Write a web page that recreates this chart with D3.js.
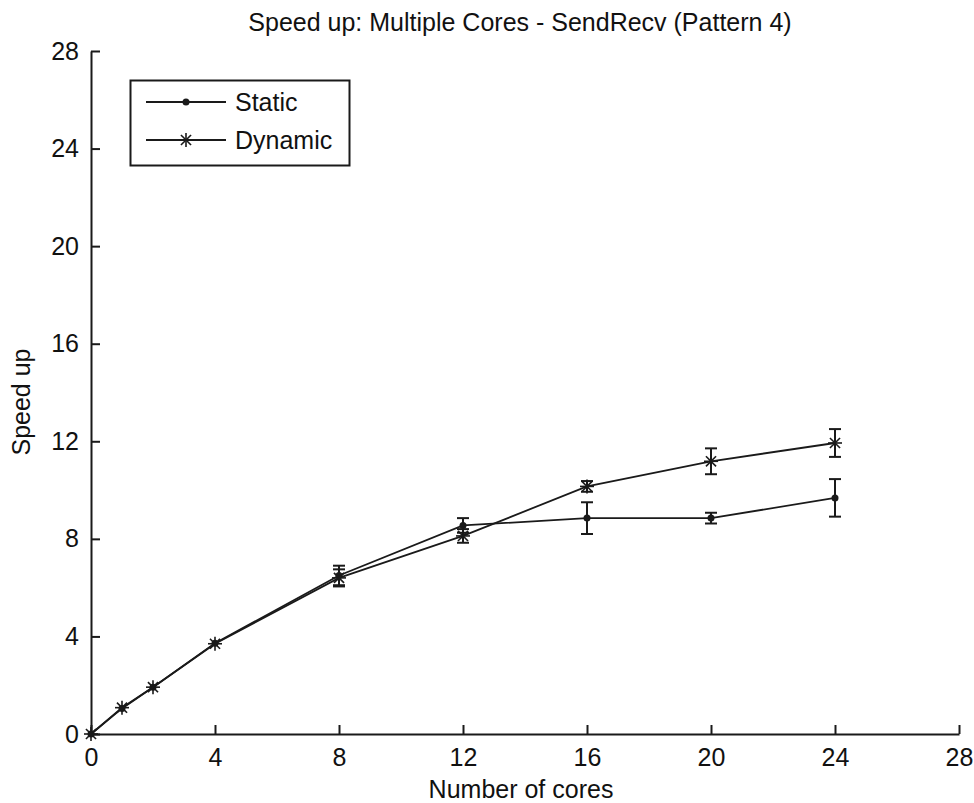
<!DOCTYPE html>
<html><head><meta charset="utf-8">
<script src="https://cdn.jsdelivr.net/npm/d3@7"></script>
<style>body{margin:0;background:#fff}svg{display:block}text{font-family:"Liberation Sans",Arial,sans-serif;fill:#111}</style>
</head><body>
<script>
const cores = [0, 1, 2, 4, 8, 12, 16, 20, 24];
const staticMean = [0, 1.05, 1.92, 3.72, 6.5, 8.55, 8.85, 8.85, 9.68];
const staticErr = [0, 0.03, 0.05, 0.08, 0.4, 0.3, 0.65, 0.22, 0.77];
const dynamicMean = [0, 1.08, 1.92, 3.7, 6.4, 8.12, 10.15, 11.18, 11.93];
const dynamicErr = [0, 0.03, 0.06, 0.1, 0.35, 0.28, 0.22, 0.53, 0.57];
const xTicks = [0, 4, 8, 12, 16, 20, 24, 28];
const yTicks = [0, 4, 8, 12, 16, 20, 24, 28];
const seriesNames = ["Static", "Dynamic"];
const titleText = "Speed up: Multiple Cores - SendRecv (Pattern 4)";
const xLabel = "Number of cores";
const yLabel = "Speed up";

const W = 974, H = 803;
const svg = d3.select("body").append("svg").attr("width", W).attr("height", H);
const x = d3.scaleLinear().domain([0, 28]).range([91, 959]);
const y = d3.scaleLinear().domain([0, 28]).range([734, 51]);
const ink = "#1a1a1a";
const fs = 25;

// axes
const xa = svg.append("g").attr("transform", `translate(0,${y(0)})`)
  .call(d3.axisBottom(x).tickValues(xTicks).tickSizeInner(-9).tickSizeOuter(0).tickPadding(14));
const ya = svg.append("g").attr("transform", `translate(${x(0)},0)`)
  .call(d3.axisLeft(y).tickValues(yTicks).tickSizeInner(-9).tickSizeOuter(0).tickPadding(12));
[xa, ya].forEach(a => {
  a.select(".domain").attr("stroke", ink).attr("stroke-width", 2);
  a.selectAll(".tick line").attr("stroke", ink).attr("stroke-width", 2);
  a.selectAll(".tick text").attr("font-size", fs).attr("font-family", "Liberation Sans, Arial, sans-serif").attr("fill", "#111");
});
xa.selectAll(".tick text").attr("dy", "0.71em");

// title & labels
svg.append("text").attr("x", 520).attr("y", 31).attr("text-anchor", "middle").attr("font-size", fs).text(titleText);
svg.append("text").attr("x", 521).attr("y", 798).attr("text-anchor", "middle").attr("font-size", fs).text(xLabel);
svg.append("text").attr("transform", "translate(30,402) rotate(-90)").attr("text-anchor", "middle").attr("font-size", fs).text(yLabel);

const line = d3.line().x(d => x(d.x)).y(d => y(d.y));
function series(means, errs) { return cores.map((c, i) => ({x: c, y: means[i], e: errs[i]})); }
const data = [series(staticMean, staticErr), series(dynamicMean, dynamicErr)];

function star(g, cx, cy, r) {
  const p = g.append("g").attr("transform", `translate(${cx},${cy})`).attr("stroke", ink).attr("stroke-width", 1.6);
  const d = r * 0.72;
  p.append("line").attr("x1", -r).attr("x2", r).attr("y1", 0).attr("y2", 0);
  p.append("line").attr("x1", 0).attr("x2", 0).attr("y1", -r).attr("y2", r);
  p.append("line").attr("x1", -d).attr("x2", d).attr("y1", -d).attr("y2", d);
  p.append("line").attr("x1", -d).attr("x2", d).attr("y1", d).attr("y2", -d);
}

data.forEach((s, k) => {
  const g = svg.append("g");
  g.append("path").datum(s).attr("d", line).attr("fill", "none").attr("stroke", ink).attr("stroke-width", 1.8);
  s.forEach(d => {
    if (d.e > 0.12) {
      const cx = x(d.x), t = y(d.y + d.e), b = y(d.y - d.e);
      g.append("line").attr("x1", cx).attr("x2", cx).attr("y1", t).attr("y2", b).attr("stroke", ink).attr("stroke-width", 2);
      g.append("line").attr("x1", cx - 6).attr("x2", cx + 6).attr("y1", t).attr("y2", t).attr("stroke", ink).attr("stroke-width", 2);
      g.append("line").attr("x1", cx - 6).attr("x2", cx + 6).attr("y1", b).attr("y2", b).attr("stroke", ink).attr("stroke-width", 2);
    }
    if (k === 0) g.append("circle").attr("cx", x(d.x)).attr("cy", y(d.y)).attr("r", 3.5).attr("fill", ink);
    else star(g, x(d.x), y(d.y), 7);
  });
});

// legend
const lg = svg.append("g");
lg.append("rect").attr("x", 130.5).attr("y", 80.5).attr("width", 219).attr("height", 85).attr("fill", "#fff").attr("stroke", ink).attr("stroke-width", 2);
const rowsY = [102, 140];
seriesNames.forEach((n, k) => {
  lg.append("line").attr("x1", 146).attr("x2", 226).attr("y1", rowsY[k]).attr("y2", rowsY[k]).attr("stroke", ink).attr("stroke-width", 1.8);
  if (k === 0) lg.append("circle").attr("cx", 186).attr("cy", rowsY[k]).attr("r", 3.5).attr("fill", ink);
  else star(lg, 186, rowsY[k], 7);
  lg.append("text").attr("x", 235).attr("y", rowsY[k]).attr("dy", "0.36em").attr("font-size", fs).text(n);
});
</script>
</body></html>
